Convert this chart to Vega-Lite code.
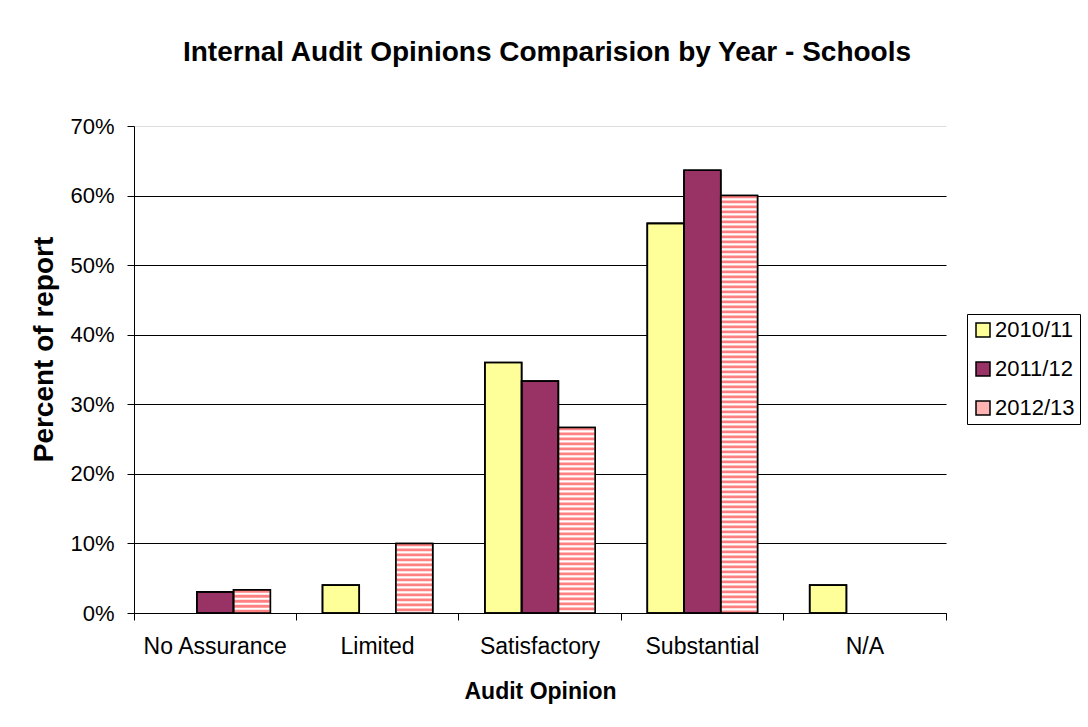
{
  "$schema": "https://vega.github.io/schema/vega-lite/v6.json",
  "width": 812,
  "height": 487,
  "autosize": {"type": "none"},
  "padding": {"left": 134, "top": 126, "right": 142, "bottom": 114},
  "background": "white",
  "config": {
    "view": {"stroke": null},
    "font": "Liberation Sans"
  },
  "title": {
    "text": "Internal Audit Opinions Comparision by Year - Schools",
    "font": "Liberation Sans",
    "fontSize": 28,
    "fontWeight": "bold",
    "color": "black",
    "anchor": "middle",
    "frame": "group",
    "baseline": "alphabetic",
    "offset": 26,
    "dx": 7
  },
  "data": {
    "values": [
      {"opinion": "No Assurance", "year": "2011/12", "pct": 0.0303},
      {"opinion": "No Assurance", "year": "2012/13", "pct": 0.0333},
      {"opinion": "Limited", "year": "2010/11", "pct": 0.04},
      {"opinion": "Limited", "year": "2012/13", "pct": 0.10},
      {"opinion": "Satisfactory", "year": "2010/11", "pct": 0.36},
      {"opinion": "Satisfactory", "year": "2011/12", "pct": 0.3333},
      {"opinion": "Satisfactory", "year": "2012/13", "pct": 0.2667},
      {"opinion": "Substantial", "year": "2010/11", "pct": 0.56},
      {"opinion": "Substantial", "year": "2011/12", "pct": 0.6364},
      {"opinion": "Substantial", "year": "2012/13", "pct": 0.60},
      {"opinion": "N/A", "year": "2010/11", "pct": 0.04}
    ]
  },
  "encoding": {
    "x": {
      "field": "opinion",
      "type": "nominal",
      "sort": ["No Assurance", "Limited", "Satisfactory", "Substantial", "N/A"],
      "scale": {"domain": ["No Assurance", "Limited", "Satisfactory", "Substantial", "N/A"], "paddingInner": 0, "paddingOuter": 0},
      "axis": {
        "title": "Audit Opinion",
        "titleFont": "Liberation Sans",
        "titleFontSize": 23,
        "titleFontWeight": "bold",
        "titleColor": "black",
        "titlePadding": 22,
        "labelFont": "Liberation Sans",
        "labelFontSize": 23,
        "labelColor": "black",
        "labelAngle": 0,
        "labelPadding": 15,
        "bandPosition": 1,
        "tickExtra": true,
        "tickSize": 7,
        "tickColor": "black",
        "tickWidth": 1,
        "domainColor": "black",
        "domainWidth": 1,
        "grid": false
      }
    },
    "xOffset": {
      "field": "year",
      "type": "nominal",
      "scale": {"domain": ["2010/11", "2011/12", "2012/13"], "paddingInner": 0, "paddingOuter": 0.71}
    },
    "y": {
      "field": "pct",
      "type": "quantitative",
      "scale": {"domain": [0, 0.7], "nice": false},
      "axis": {
        "title": "Percent of report",
        "titleFont": "Liberation Sans",
        "titleFontSize": 28,
        "titleFontWeight": "bold",
        "titleColor": "black",
        "titleX": -90,
        "titleY": 223,
        "titleAngle": -90,
        "titleAlign": "center",
        "titleBaseline": "middle",
        "format": ".0%",
        "values": [0, 0.1, 0.2, 0.3, 0.4, 0.5, 0.6, 0.7],
        "labelFont": "Liberation Sans",
        "labelFontSize": 22,
        "labelColor": "black",
        "labelPadding": 13,
        "tickSize": 7,
        "tickColor": "black",
        "domainColor": "black",
        "grid": true,
        "gridColor": {"condition": {"test": "datum.value >= 0.7", "value": "#dddddd"}, "value": "black"},
        "gridWidth": 1
      }
    }
  },
  "layer": [
    {
      "mark": {"type": "bar", "stroke": "black", "strokeWidth": 1.6},
      "encoding": {
        "fill": {
          "field": "year",
          "type": "nominal",
          "scale": {"domain": ["2010/11", "2011/12", "2012/13"], "range": ["#FFFF99", "#993366", "#FFB3B3"]},
          "legend": {
            "title": null,
            "orient": "none",
            "legendX": 833,
            "legendY": 188,
            "padding": 5,
            "strokeColor": "black",
            "fillColor": "white",
            "symbolType": "square",
            "symbolSize": 196,
            "symbolStrokeColor": "black",
            "symbolStrokeWidth": 1.5,
            "symbolOpacity": 1,
            "labelFont": "Liberation Sans",
            "labelFontSize": 22,
            "labelColor": "black",
            "labelOffset": 1,
            "rowPadding": 17,
            "encode": {
              "symbols": {
                "update": {
                  "stroke": {"value": "black"},
                  "strokeWidth": {"value": 1.5}
                }
              }
            }
          }
        }
      }
    },
    {
      "transform": [{"filter": "datum.year === '2012/13'"}],
      "mark": {"type": "bar", "fill": "white"},
      "encoding": {}
    },
    {
      "transform": [{"filter": "datum.year === '2012/13'"}],
      "mark": {"type": "rule", "stroke": "#FF8080", "strokeWidth": 35.5, "strokeDash": [2.8, 2.2], "strokeCap": "butt"},
      "encoding": {
        "y2": {"datum": 0}
      }
    },
    {
      "mark": {"type": "bar", "fill": "transparent", "stroke": "black", "strokeWidth": 1.6},
      "encoding": {}
    }
  ]
}
